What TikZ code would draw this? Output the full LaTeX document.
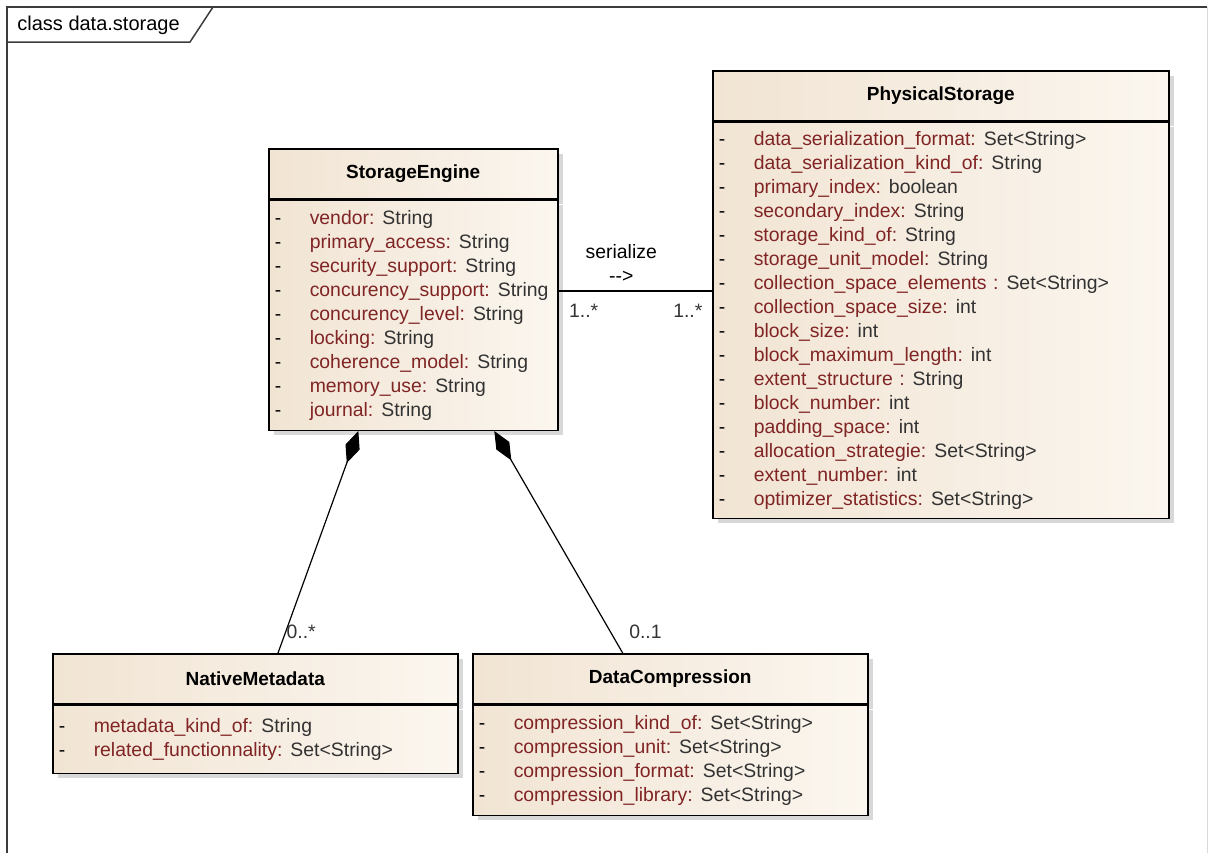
\documentclass[tikz,border=0pt]{standalone}
\usepackage{fontspec}
\setmainfont{Liberation Sans}
\usepackage{xcolor}
\usetikzlibrary{positioning,arrows.meta,calc,shadows}

\definecolor{boxleft}{RGB}{241,228,211}
\definecolor{boxright}{RGB}{251,246,239}
\definecolor{attrname}{RGB}{128,36,36}
\definecolor{attrtype}{RGB}{50,50,50}
\definecolor{framegray}{RGB}{60,60,60}

% one attribute row: dash, name, type
\newcommand{\attr}[2]{\makebox[17.5pt][l]{-}\textcolor{attrname}{#1}\hspace{4pt}\textcolor{attrtype}{#2}}

\begin{document}
\begin{tikzpicture}[
    x=0.5pt, y=-0.5pt,
    font=\fontsize{9.7}{12}\selectfont,
    classhead/.style={draw, line width=0.75pt, anchor=north west, minimum height=25pt,
                      inner sep=0pt, left color=boxleft, right color=boxright,
                      drop shadow={shadow xshift=2.5pt, shadow yshift=-2.5pt, fill=black!30},
                      font=\bfseries\fontsize{9.5}{11}\selectfont},
    classbody/.style={draw, line width=0.75pt, inner xsep=3pt, inner ysep=2pt, align=left,
                      left color=boxleft, right color=boxright,
                      drop shadow={shadow xshift=2.5pt, shadow yshift=-2.5pt, fill=black!30}},
    comp/.style={{Diamond[length=17pt,width=7.5pt]}-, line width=0.6pt},
    assoc/.style={line width=0.6pt},
    mult/.style={inner sep=1pt, text=black!80},
]
\useasboundingbox (0,0) rectangle (1210,852);

% ---------------- frame ----------------
\draw[framegray, line width=0.75pt] (1207,7) -- (7,7) -- (7,870);
\draw[black!15, line width=0.5pt] (1207,7) -- (1207,870);
\draw[framegray, line width=0.75pt] (7,7) -- (213,7) -- (190,42) -- (7,42);
\node[anchor=west, inner sep=0pt, font=\fontsize{10}{12}\selectfont] (title) at (17,25) {class data.storage};

% ---------------- classes ----------------
\node[classhead, minimum width=144.5pt] (sehead) at (268,148) {StorageEngine};
\node[classbody, text width=138.5pt, minimum height=115pt, below=0pt of sehead] (sebody) {%
    \attr{vendor:}{String}\\
    \attr{primary\_access:}{String}\\
    \attr{security\_support:}{String}\\
    \attr{concurency\_support:}{String}\\
    \attr{concurency\_level:}{String}\\
    \attr{locking:}{String}\\
    \attr{coherence\_model:}{String}\\
    \attr{memory\_use:}{String}\\
    \attr{journal:}{String}};

\node[classhead, minimum width=228pt] (pshead) at (712,70) {PhysicalStorage};
\node[classbody, text width=222pt, minimum height=198pt, below=0pt of pshead] (psbody) {%
    \attr{data\_serialization\_format:}{Set<String>}\\
    \attr{data\_serialization\_kind\_of:}{String}\\
    \attr{primary\_index:}{boolean}\\
    \attr{secondary\_index:}{String}\\
    \attr{storage\_kind\_of:}{String}\\
    \attr{storage\_unit\_model:}{String}\\
    \attr{collection\_space\_elements :}{Set<String>}\\
    \attr{collection\_space\_size:}{int}\\
    \attr{block\_size:}{int}\\
    \attr{block\_maximum\_length:}{int}\\
    \attr{extent\_structure :}{String}\\
    \attr{block\_number:}{int}\\
    \attr{padding\_space:}{int}\\
    \attr{allocation\_strategie:}{Set<String>}\\
    \attr{extent\_number:}{int}\\
    \attr{optimizer\_statistics:}{Set<String>}};

\node[classhead, minimum width=202.5pt] (nmhead) at (52,653) {NativeMetadata};
\node[classbody, text width=196.5pt, minimum height=34pt, below=0pt of nmhead] (nmbody) {%
    \attr{metadata\_kind\_of:}{String}\\
    \attr{related\_functionnality:}{Set<String>}};

\node[classhead, minimum width=197.5pt] (dchead) at (472,653) {DataCompression};
\node[classbody, text width=191.5pt, minimum height=55pt, below=0pt of dchead] (dcbody) {%
    \attr{compression\_kind\_of:}{Set<String>}\\
    \attr{compression\_unit:}{Set<String>}\\
    \attr{compression\_format:}{Set<String>}\\
    \attr{compression\_library:}{Set<String>}};

% ---------------- relations ----------------
\coordinate (serial) at (0,291);
\draw[assoc] (sebody.east |- serial) --
    node[midway, above=3pt, xshift=-7pt, align=center, inner sep=1pt] (serlabel) {serialize\\-{}-{}>}
    node[mult, pos=0, anchor=north west, xshift=4pt, yshift=-5.5pt] (semult) {1..*}
    node[mult, pos=1, anchor=north east, xshift=-3.5pt, yshift=-5.5pt] (psmult) {1..*}
    (psbody.west |- serial);

\draw[comp] ($(sebody.south west)!0.311!(sebody.south east)$) --
    node[mult, pos=1, anchor=south west, xshift=3pt, yshift=6pt] (nmmult) {0..*}
    ($(nmhead.north west)!0.556!(nmhead.north east)$);
\draw[comp] ($(sebody.south west)!0.779!(sebody.south east)$) --
    node[mult, pos=1, anchor=south west, xshift=2pt, yshift=6pt] (dcmult) {0..1}
    ($(dchead.north west)!0.38!(dchead.north east)$);
\end{tikzpicture}
\end{document}
